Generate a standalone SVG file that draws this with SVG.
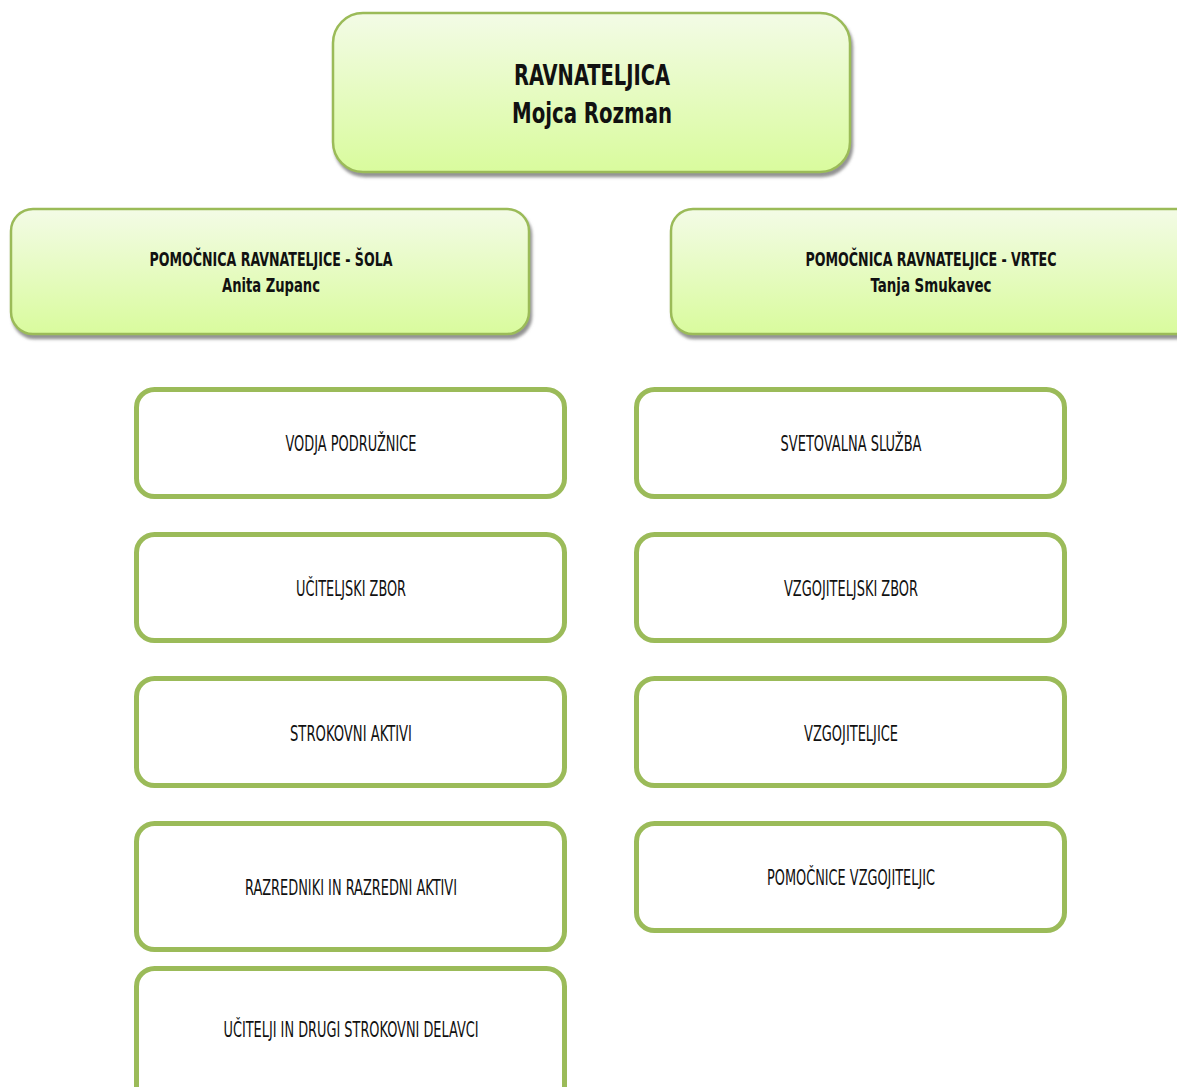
<svg xmlns="http://www.w3.org/2000/svg" width="1177" height="1087" viewBox="0 0 1177 1087">
<defs>
<linearGradient id="g" x1="0" y1="0" x2="0" y2="1">
<stop offset="0" stop-color="#f3fbe6"/>
<stop offset="1" stop-color="#d9fb9d"/>
</linearGradient>
<filter id="sh" x="-5%" y="-5%" width="110%" height="120%">
<feGaussianBlur in="SourceAlpha" stdDeviation="1.5"/>
<feOffset dx="2" dy="4" result="o"/>
<feFlood flood-color="#808080" flood-opacity="0.85"/>
<feComposite in2="o" operator="in"/>
<feMerge><feMergeNode/><feMergeNode in="SourceGraphic"/></feMerge>
</filter>
</defs>
<style>
.head{fill:url(#g);stroke:#9bbb59;stroke-width:2.5;filter:url(#sh)}
.box{fill:#ffffff;stroke:#9bbb59;stroke-width:5}
text{font-family:"Liberation Sans Narrow","DejaVu Sans Condensed","Liberation Sans",sans-serif;fill:#111;text-anchor:middle}
.b1{font-weight:bold;font-size:28px}
.b2{font-weight:bold;font-size:19px}
.t{font-size:21px}
</style>
<g id="connectors"></g>
<g id="ravnateljica">
<rect class="head" x="333" y="13" width="517" height="159" rx="30"/>
<text class="b1" x="592" y="85" textLength="156" lengthAdjust="spacingAndGlyphs">RAVNATELJICA</text>
<text class="b1" x="592" y="123" textLength="160" lengthAdjust="spacingAndGlyphs">Mojca Rozman</text>
</g>
<g id="pomocnica-sola">
<rect class="head" x="11" y="209" width="518" height="125" rx="22"/>
<text class="b2" x="271" y="266" textLength="243" lengthAdjust="spacingAndGlyphs">POMOČNICA RAVNATELJICE - ŠOLA</text>
<text class="b2" x="271" y="292" textLength="98" lengthAdjust="spacingAndGlyphs">Anita Zupanc</text>
</g>
<g id="pomocnica-vrtec">
<rect class="head" x="671" y="209" width="540" height="125" rx="22"/>
<text class="b2" x="931" y="266" textLength="251" lengthAdjust="spacingAndGlyphs">POMOČNICA RAVNATELJICE - VRTEC</text>
<text class="b2" x="931" y="292" textLength="121" lengthAdjust="spacingAndGlyphs">Tanja Smukavec</text>
</g>
<g id="vodja-podruznice">
<rect class="box" x="136.5" y="389.5" width="428" height="107" rx="18"/>
<text class="t" x="351" y="451" textLength="131" lengthAdjust="spacingAndGlyphs">VODJA PODRUŽNICE</text>
</g>
<g id="uciteljski-zbor">
<rect class="box" x="136.5" y="534.5" width="428" height="106" rx="18"/>
<text class="t" x="351" y="596" textLength="110" lengthAdjust="spacingAndGlyphs">UČITELJSKI ZBOR</text>
</g>
<g id="strokovni-aktivi">
<rect class="box" x="136.5" y="678.5" width="428" height="107" rx="18"/>
<text class="t" x="351" y="741" textLength="122" lengthAdjust="spacingAndGlyphs">STROKOVNI AKTIVI</text>
</g>
<g id="razredniki">
<rect class="box" x="136.5" y="823.5" width="428" height="126" rx="18"/>
<text class="t" x="351" y="895" textLength="212" lengthAdjust="spacingAndGlyphs">RAZREDNIKI IN RAZREDNI AKTIVI</text>
</g>
<g id="ucitelji">
<rect class="box" x="136.5" y="968.5" width="428" height="140" rx="18"/>
<text class="t" x="351" y="1037" textLength="255" lengthAdjust="spacingAndGlyphs">UČITELJI IN DRUGI STROKOVNI DELAVCI</text>
</g>
<g id="svetovalna-sluzba">
<rect class="box" x="636.5" y="389.5" width="428" height="107" rx="18"/>
<text class="t" x="851" y="451" textLength="141" lengthAdjust="spacingAndGlyphs">SVETOVALNA SLUŽBA</text>
</g>
<g id="vzgojiteljski-zbor">
<rect class="box" x="636.5" y="534.5" width="428" height="106" rx="18"/>
<text class="t" x="851" y="596" textLength="134" lengthAdjust="spacingAndGlyphs">VZGOJITELJSKI ZBOR</text>
</g>
<g id="vzgojiteljice">
<rect class="box" x="636.5" y="678.5" width="428" height="107" rx="18"/>
<text class="t" x="851" y="741" textLength="94" lengthAdjust="spacingAndGlyphs">VZGOJITELJICE</text>
</g>
<g id="pomocnice-vzgojiteljic">
<rect class="box" x="636.5" y="823.5" width="428" height="107" rx="18"/>
<text class="t" x="851" y="885" textLength="168" lengthAdjust="spacingAndGlyphs">POMOČNICE VZGOJITELJIC</text>
</g>
</svg>
